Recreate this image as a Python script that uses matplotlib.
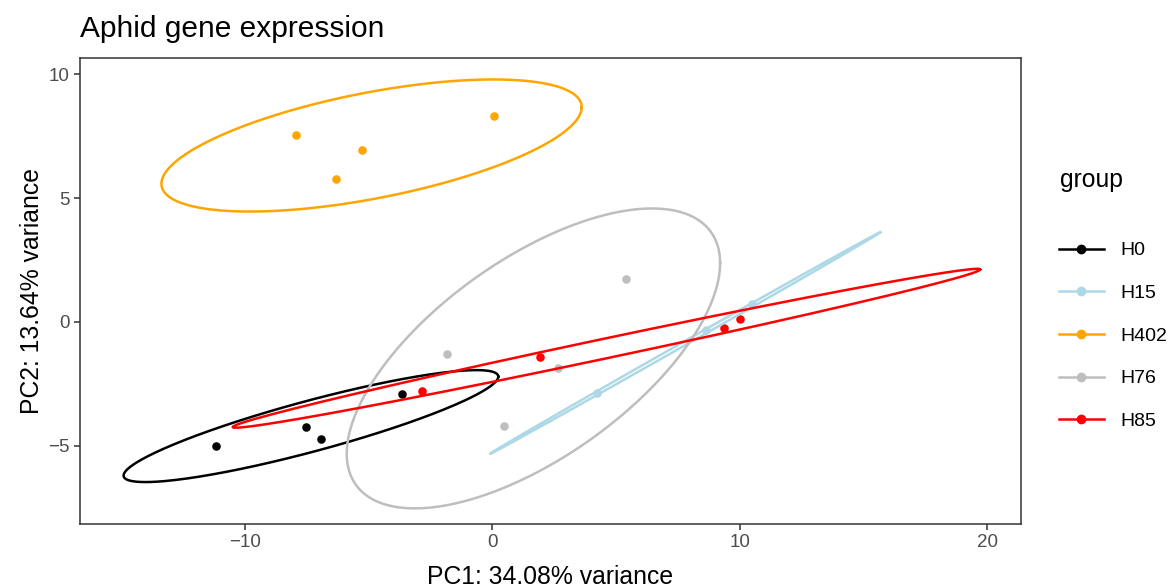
import numpy as np
import matplotlib
matplotlib.use('Agg')
import matplotlib.pyplot as plt
from matplotlib.lines import Line2D

plt.rcParams['font.family'] = ['Liberation Sans', 'DejaVu Sans']

groups = ['H0', 'H15', 'H402', 'H76', 'H85']
colors = ['black', '#ADD8E6', '#FFA500', '#BEBEBE', '#FF0000']

# PCA scores
pc1 = {
    'H0': [-11.16, -7.53, -6.91, -3.64],
    'H15': [4.23, 8.63, 10.49],
    'H402': [-7.93, -5.27, -6.32, 0.07],
    'H76': [5.41, -1.81, 2.65, 0.47],
    'H85': [-2.82, 1.94, 9.39, 10.02],
}
pc2 = {
    'H0': [-4.99, -4.25, -4.73, -2.89],
    'H15': [-2.88, -0.32, 0.72],
    'H402': [7.55, 6.92, 5.75, 8.32],
    'H76': [1.75, -1.30, -1.85, -4.19],
    'H85': [-2.77, -1.41, -0.24, 0.12],
}

# ellipse centre and shape matrix (already scaled) per group
ell_cx = [-7.32, 7.80, -4.87, 1.67, 4.62]
ell_cy = [-4.20, -0.85, 7.12, -1.47, -1.06]
ell_sxx = [57.3, 62.1, 72.1, 56.9, 228.0]
ell_sxy = [15.1, 35.2, 13.1, 29.0, 48.0]
ell_syy = [5.1, 19.96, 7.1, 36.6, 10.27]

x_ticks = [-10, 0, 10, 20]
y_ticks = [-5, 0, 5, 10]

W, H = 1169, 587
fig = plt.figure(figsize=(W / 100, H / 100), dpi=100)
ax = fig.add_axes([80 / W, (H - 524) / H, (1021 - 80) / W, (524 - 58) / H])

t = np.linspace(0, 2 * np.pi, 300)
for i, g in enumerate(groups):
    ax.scatter(pc1[g], pc2[g], s=38, color=colors[i], zorder=3, linewidths=0)
for i, g in enumerate(groups):
    S = np.array([[ell_sxx[i], ell_sxy[i]], [ell_sxy[i], ell_syy[i]]])
    L = np.linalg.cholesky(S)
    pts = L @ np.vstack([np.cos(t), np.sin(t)])
    ax.plot(ell_cx[i] + pts[0], ell_cy[i] + pts[1], color=colors[i], lw=1.8, zorder=4)

ax.set_xlim(-16.65, 21.37)
ax.set_ylim(-8.15, 10.65)
ax.set_xticks(x_ticks)
ax.set_yticks(y_ticks)
ax.set_xticklabels(['\u221210', '0', '10', '20'])
ax.set_yticklabels(['\u22125', '0', '5', '10'])
ax.tick_params(colors='#333333', labelcolor='#4D4D4D', labelsize=13.5,
               length=4.5, width=1.1, pad=3)
for sp in ax.spines.values():
    sp.set_color('#333333')
    sp.set_linewidth(1.1)

ax.set_xlabel('PC1: 34.08% variance', fontsize=17.8, labelpad=10)
ax.set_ylabel('PC2: 13.64% variance', fontsize=17.8, labelpad=3)
fig.text(80 / W, 1 - 37 / H, 'Aphid gene expression', fontsize=21.5, va='baseline', ha='left')

# legend
fig.text(1060 / W, 1 - 180 / H, 'group', fontsize=17.8, va='center', ha='left')
handles = [Line2D([], [], color=c, lw=1.8, marker='o', markersize=6) for c in colors]
fig.legend(handles, groups, loc='upper left',
           bbox_to_anchor=(1051 / W, 1 - 234 / H), frameon=False,
           fontsize=14, handlelength=2.3, handletextpad=0.85,
           labelspacing=1.29, borderaxespad=0)

fig.savefig('out.png', dpi=100)
